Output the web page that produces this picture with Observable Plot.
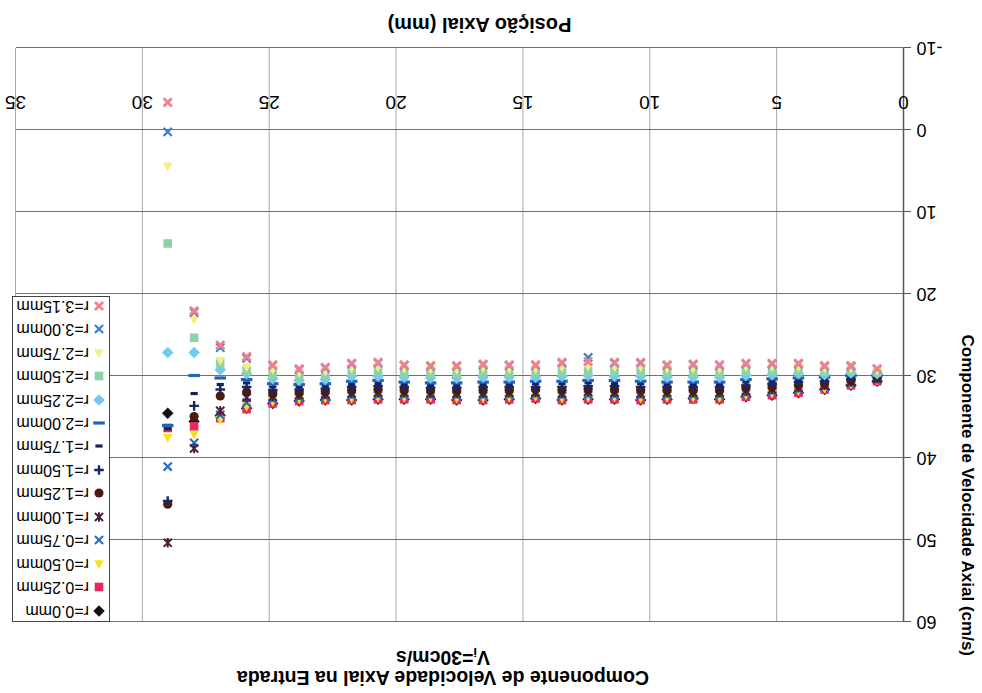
<!DOCTYPE html>
<html>
<head>
<meta charset="utf-8">
<script src="https://cdn.jsdelivr.net/npm/d3@7"></script>
<script src="https://cdn.jsdelivr.net/npm/@observablehq/plot@0.6"></script>
<style>
  html, body { margin: 0; padding: 0; background: #fff; }
  #page {
    position: relative; width: 982px; height: 693px; overflow: hidden;
    transform: rotate(180deg); transform-origin: 50% 50%;
    font-family: "Liberation Sans", Arial, sans-serif; color: #000;
  }
  #chart { position: absolute; left: 0; top: 0; }
  .title { position: absolute; left: 289px; width: 500px; text-align: center;
           font-weight: bold; font-size: 19.5px; line-height: 19px; height: 19px; white-space: nowrap; }
  .sub { font-size: 13px; position: relative; top: 3px; }
  #legend { position: absolute; left: 872px; top: 71px; width: 98px; height: 326px;
            border: 1px solid #444; background: #fff; box-sizing: border-box; }
  .row { position: absolute; left: 0; height: 20px; display: flex; align-items: center;
         font-size: 16px; white-space: nowrap; }
  .row svg { margin-left: 1px; margin-right: 1px; }
</style>
</head>
<body>
<div id="page">
  <div id="chart"></div>
  <div class="title" style="top:6px">Componente de Velocidade Axial na Entrada</div>
  <div class="title" style="top:26px">V<span class="sub">i</span>=30cm/s</div>
  <div id="legend"></div>
</div>
<script>
// Axial positions of the measuring stations (mm)
const positions = [1.04, 2.07, 3.11, 4.14, 5.18, 6.21, 7.25, 8.29, 9.32, 10.36, 11.39, 12.43, 13.46, 14.50,
                   15.54, 16.57, 17.61, 18.64, 19.68, 20.71, 21.75, 22.79, 23.82, 24.86, 25.89, 26.93, 27.96, 29.00];

// Axial velocity (cm/s) at each station, one array per radius
const r000 = [30.7, 31.2, 31.7, 32.1, 32.4, 32.6, 32.9, 32.8, 32.9, 33.0, 32.9, 32.9, 33.0, 32.8, 32.9, 33.0, 33.0, 32.9, 32.9, 32.9, 33.0, 33.0, 33.1, 33.4, 34.0, 34.9, 35.6, 34.6];
const r025 = [30.7, 31.2, 31.7, 32.1, 32.4, 32.6, 32.9, 32.9, 32.9, 33.0, 32.9, 32.9, 33.0, 32.8, 32.9, 33.0, 33.0, 32.9, 32.9, 32.9, 33.0, 33.0, 33.1, 33.4, 34.1, 35.2, 36.2, 36.4];
const r050 = [30.6, 31.1, 31.6, 31.9, 32.2, 32.4, 32.7, 32.7, 32.7, 32.8, 32.7, 32.7, 32.8, 32.6, 32.7, 32.8, 32.8, 32.7, 32.7, 32.7, 32.8, 32.8, 32.9, 33.2, 33.8, 35.4, 37.2, 37.6];
const r075 = [30.5, 31.0, 31.4, 31.7, 32.0, 32.2, 32.4, 32.4, 32.4, 32.5, 32.4, 32.4, 32.5, 32.3, 32.4, 32.5, 32.5, 32.5, 32.4, 32.4, 32.5, 32.6, 32.7, 32.9, 33.3, 34.8, 38.2, 41.1];
const r100 = [30.4, 30.8, 31.2, 31.5, 31.7, 31.9, 32.1, 32.1, 32.1, 32.2, 32.1, 32.0, 32.2, 32.1, 32.1, 32.2, 32.2, 32.2, 32.1, 32.1, 32.2, 32.3, 32.4, 32.6, 32.7, 34.3, 38.9, 50.4];
const r125 = [30.3, 30.6, 31.0, 31.2, 31.4, 31.5, 31.8, 31.8, 31.8, 31.8, 31.7, 31.7, 31.8, 31.7, 31.8, 31.8, 31.9, 31.8, 31.8, 31.7, 31.8, 32.0, 32.1, 32.2, 32.0, 32.5, 35.0, 45.7];
const r150 = [30.2, 30.4, 30.7, 30.8, 31.0, 31.2, 31.4, 31.4, 31.4, 31.4, 31.3, 31.3, 31.4, 31.4, 31.4, 31.4, 31.5, 31.5, 31.4, 31.3, 31.4, 31.6, 31.7, 31.8, 31.4, 31.7, 33.7, 45.3];
const r175 = [30.1, 30.2, 30.5, 30.6, 30.7, 30.8, 31.1, 31.1, 31.1, 31.0, 31.0, 30.9, 31.0, 31.0, 31.1, 31.1, 31.2, 31.2, 31.1, 31.0, 31.1, 31.3, 31.4, 31.4, 30.9, 31.1, 32.2, 36.5];
const r200 = [30.0, 30.0, 30.2, 30.3, 30.4, 30.5, 30.8, 30.8, 30.8, 30.7, 30.6, 30.6, 30.7, 30.7, 30.8, 30.8, 30.9, 30.9, 30.8, 30.6, 30.7, 31.0, 31.1, 31.0, 30.5, 30.3, 30.0, 36.1];
const r225 = [29.8, 29.7, 29.9, 29.8, 29.9, 30.0, 30.2, 30.2, 30.2, 30.1, 30.1, 30.0, 30.1, 30.2, 30.2, 30.2, 30.3, 30.3, 30.2, 30.1, 30.1, 30.5, 30.6, 30.4, 29.8, 29.3, 27.2, 27.2];
const r250 = [29.6, 29.4, 29.5, 29.4, 29.5, 29.5, 29.7, 29.7, 29.7, 29.6, 29.5, 29.5, 29.6, 29.7, 29.7, 29.7, 29.8, 29.8, 29.7, 29.5, 29.6, 30.0, 30.2, 29.9, 29.4, 28.5, 25.4, 13.9];
const r275 = [29.4, 29.1, 29.2, 29.0, 29.0, 29.0, 29.2, 29.2, 29.2, 29.0, 29.0, 28.9, 29.0, 29.2, 29.2, 29.1, 29.3, 29.3, 29.2, 29.0, 29.1, 29.5, 29.7, 29.3, 29.0, 28.2, 23.2, 4.5];
const r300 = [29.2, 28.9, 28.9, 28.6, 28.6, 28.6, 28.8, 28.7, 28.8, 28.5, 28.5, 27.8, 28.5, 28.8, 28.8, 28.7, 28.9, 28.9, 28.8, 28.5, 28.6, 29.1, 29.3, 28.8, 27.9, 26.6, 22.3, 0.3];
const r315 = [29.2, 28.8, 28.8, 28.5, 28.5, 28.5, 28.7, 28.6, 28.7, 28.4, 28.4, 28.3, 28.4, 28.7, 28.7, 28.6, 28.8, 28.8, 28.7, 28.4, 28.5, 29.0, 29.2, 28.7, 27.7, 26.3, 22.1, -3.3];

const seriesLabels = ["r=0.0mm", "r=0.25mm", "r=0.50mm", "r=0.75mm", "r=1.00mm", "r=1.25mm", "r=1.50mm",
                      "r=1.75mm", "r=2.00mm", "r=2.25mm", "r=2.50mm", "r=2.75mm", "r=3.00mm", "r=3.15mm"];
const seriesValues = [r000, r025, r050, r075, r100, r125, r150, r175, r200, r225, r250, r275, r300, r315];

const xTicks = [0, 5, 10, 15, 20, 25, 30, 35];
const yTicks = [-10, 0, 10, 20, 30, 40, 50, 60];
const xTitle = "Posição Axial (mm)";
const yTitle = "Componente de Velocidade Axial (cm/s)";

// Marker shapes (half-extent derived from the dot radius)
const half = size => Math.sqrt(size / Math.PI);
const shapes = {
  diamond: {draw(c, s) { const h = half(s) * 1.2; c.moveTo(0, -h); c.lineTo(h, 0); c.lineTo(0, h); c.lineTo(-h, 0); c.closePath(); }},
  square: {draw(c, s) { const h = half(s) * 0.9; c.rect(-h, -h, 2 * h, 2 * h); }},
  triangle: {draw(c, s) { const h = half(s); c.moveTo(0, -h * 1.05); c.lineTo(h, h * 0.8); c.lineTo(-h, h * 0.8); c.closePath(); }},
  circle: {draw(c, s) { const h = half(s) * 0.95; c.moveTo(h, 0); c.arc(0, 0, h, 0, 2 * Math.PI); }},
  times: {draw(c, s) { const h = half(s) * 0.85; c.moveTo(-h, -h); c.lineTo(h, h); c.moveTo(h, -h); c.lineTo(-h, h); }},
  star: {draw(c, s) { const h = half(s) * 0.85; c.moveTo(-h, -h); c.lineTo(h, h); c.moveTo(h, -h); c.lineTo(-h, h); c.moveTo(0, -h * 1.15); c.lineTo(0, h * 1.15); }},
  plus: {draw(c, s) { const h = half(s); c.moveTo(-h, 0); c.lineTo(h, 0); c.moveTo(0, -h); c.lineTo(0, h); }},
  dashShort: {draw(c, s) { const h = half(s) * 0.75; c.rect(-h, -1.6, 2 * h, 3.2); }},
  dashLong: {draw(c, s) { const h = half(s) * 1.2; c.rect(-h, -1.6, 2 * h, 3.2); }}
};

const styles = [
  {symbol: shapes.diamond, fill: "#111111"},
  {symbol: shapes.square, fill: "#e52a5f"},
  {symbol: shapes.triangle, fill: "#f4e31c"},
  {symbol: shapes.times, stroke: "#2a6fc9", sw: 2.2},
  {symbol: shapes.star, stroke: "#4b1f3f", sw: 2},
  {symbol: shapes.circle, fill: "#4a1c0c"},
  {symbol: shapes.plus, stroke: "#1c2566", sw: 2.4},
  {symbol: shapes.dashShort, fill: "#15245e"},
  {symbol: shapes.dashLong, fill: "#2663b5"},
  {symbol: shapes.diamond, fill: "#74c9ee"},
  {symbol: shapes.square, fill: "#8cd3ac"},
  {symbol: shapes.triangle, fill: "#f4ef7e"},
  {symbol: shapes.times, stroke: "#3a80d3", sw: 2.2},
  {symbol: shapes.times, stroke: "#f08090", sw: 2.8}
];

const R = 4.8;
const seriesMarks = seriesValues.map((vals, i) => {
  const st = styles[i];
  const rows = positions.map((x, j) => ({x, v: vals[j]}));
  return Plot.dot(rows, {
    x: "x", y: "v", r: R, symbol: st.symbol,
    fill: st.fill ?? "none", stroke: st.stroke ?? "none", strokeWidth: st.sw ?? 0
  });
});

const chart = Plot.plot({
  width: 982, height: 693,
  marginLeft: 78, marginRight: 16, marginTop: 71, marginBottom: 48,
  style: {fontFamily: "'Liberation Sans', Arial, sans-serif", background: "transparent", color: "#000"},
  x: {domain: [0, 35], axis: null},
  y: {domain: [-10, 60], axis: null},
  marks: [
    Plot.gridX(xTicks, {stroke: "#a8a8a8", strokeOpacity: 1}),
    Plot.gridY(yTicks, {stroke: "#707070", strokeOpacity: 1}),
    Plot.axisY(yTicks, {tickSize: 7, tickPadding: 6, fontSize: 18, label: null, stroke: "#555",
                        tickFormat: d => String(d)}),
    Plot.ruleX([0], {stroke: "#555", strokeWidth: 1.5}),
    Plot.text(xTicks, {x: d => d, y: () => 0, dy: 27, text: d => String(d), fontSize: 19}),
    ...seriesMarks,
    Plot.text([yTitle], {frameAnchor: "left", dx: -64, rotate: -90, text: d => d, fontSize: 17, fontWeight: "bold"}),
    Plot.text([xTitle], {frameAnchor: "bottom", dx: -20, dy: 30, text: d => d, fontSize: 20, fontWeight: "bold"})
  ]
});
document.getElementById("chart").appendChild(chart);

// Legend: one row per radius
const legend = document.getElementById("legend");
seriesLabels.forEach((label, i) => {
  const st = styles[i];
  const p = d3.path();
  st.symbol.draw(p, Math.PI * R * R);
  const row = document.createElement("div");
  row.className = "row";
  row.style.top = (0.3 + i * 23.46) + "px";
  row.innerHTML =
    `<svg width="18" height="20" viewBox="-9 -10 18 20"><path d="${p.toString()}" fill="${st.fill ?? "none"}" stroke="${st.stroke ?? "none"}" stroke-width="${st.sw ?? 0}"/></svg><span>${label}</span>`;
  legend.appendChild(row);
});
</script>
</body>
</html>
